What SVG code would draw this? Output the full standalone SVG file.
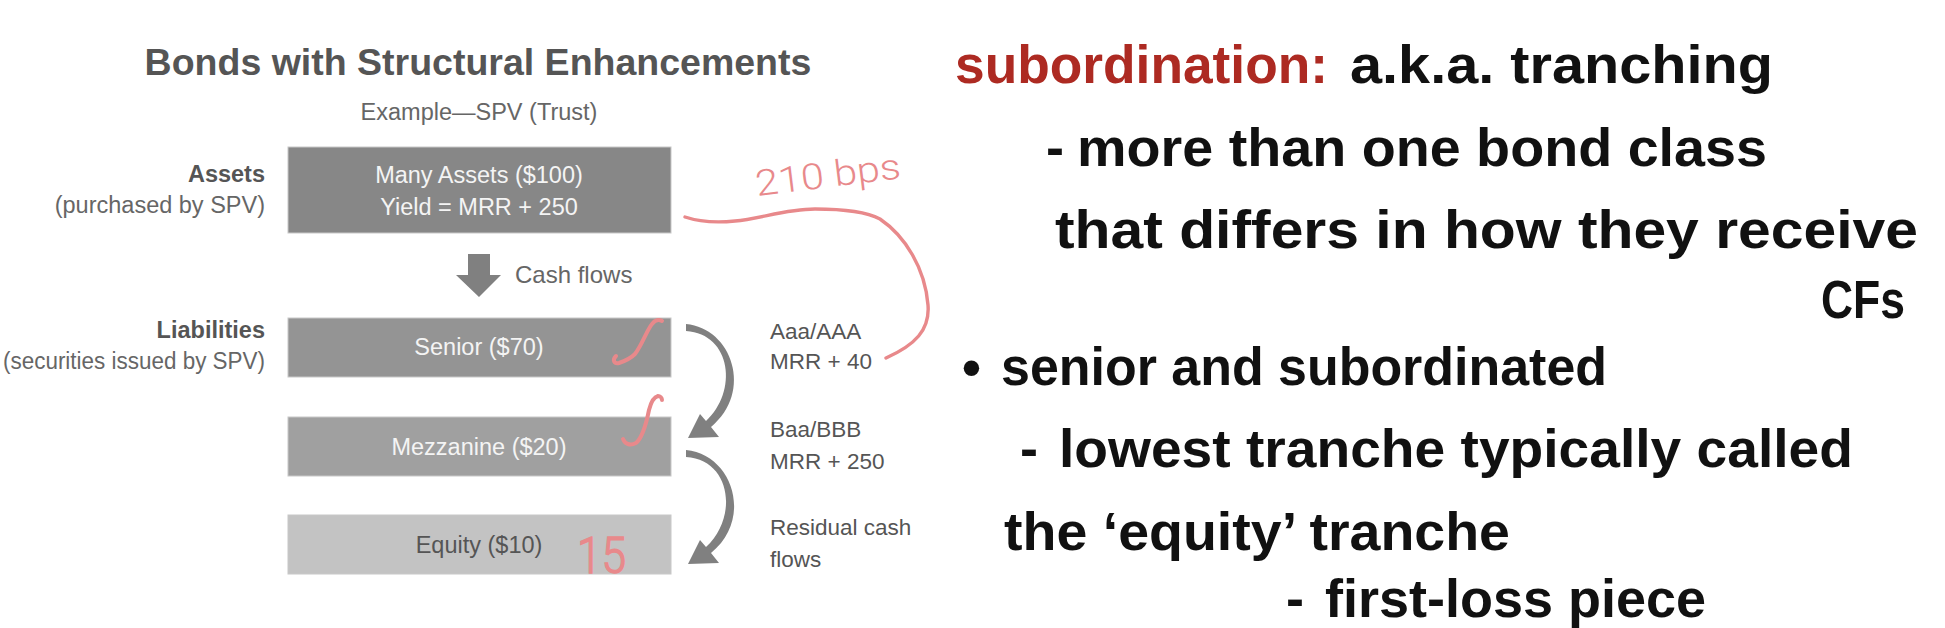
<svg xmlns="http://www.w3.org/2000/svg" xmlns:xlink="http://www.w3.org/1999/xlink" width="1945" height="628" viewBox="0 0 1945 628">
<style>
.sans{font-family:"Liberation Sans",Arial,sans-serif}
.title{font-size:37.5px;font-weight:bold;fill:#555}
.sub{font-size:23.5px;fill:#666}
.lbl{font-size:23.5px;font-weight:bold;fill:#555;text-anchor:end}
.lbl2{font-size:23.5px;fill:#666;text-anchor:end}
.box{stroke:#c8c8c8;stroke-width:1}
.btxt{font-size:23.5px;fill:#f4f4f4;text-anchor:middle}
.rate{font-size:22.5px;fill:#555}
.note{font-family:"Liberation Sans",Arial,sans-serif;font-size:54px;font-weight:bold;fill:#111}
.red{fill:#ad2a22}
.ink{fill:none;stroke:#e8898b;stroke-width:4;stroke-linecap:round;stroke-linejoin:round}
.hand{font-family:Roboto,"Liberation Sans",sans-serif;font-weight:300;fill:#e8898b}
.garrow{fill:#808080}
</style>
<defs>
<path id="curl" d="M686,324 C732,328 754,392 711,427 L719,437 L688,438 L700,414 L706,421 C738,392 732,334 686,331 Z"/>
</defs>
<rect width="1945" height="628" fill="#ffffff"/>

<g id="title"><text class="sans title" x="478" y="75" text-anchor="middle">Bonds with Structural Enhancements</text></g>
<g id="subtitle"><text class="sans sub" x="479" y="120" text-anchor="middle">Example—SPV (Trust)</text></g>

<g id="assets-label">
<text class="sans lbl" x="265" y="182">Assets</text>
<text class="sans lbl2" x="265" y="213">(purchased by SPV)</text>
</g>
<g id="assets-box">
<rect class="box" x="288" y="147" width="383" height="86" fill="#878787"/>
<text class="sans btxt" x="479" y="183">Many Assets ($100)</text>
<text class="sans btxt" x="479" y="215">Yield = MRR + 250</text>
</g>

<g id="cashflow-label"><text class="sans sub" x="515" y="283" style="font-size:24px">Cash flows</text></g>

<g id="liabilities-label">
<text class="sans lbl" x="265" y="338">Liabilities</text>
<text class="sans lbl2" x="265" y="369" textLength="262" lengthAdjust="spacingAndGlyphs">(securities issued by SPV)</text>
</g>
<g id="senior">
<rect class="box" x="288" y="318" width="383" height="59" fill="#949494"/>
<text class="sans btxt" x="479" y="355">Senior ($70)</text>
</g>
<g id="mezzanine">
<rect class="box" x="288" y="417" width="383" height="59" fill="#a0a0a0"/>
<text class="sans btxt" x="479" y="455">Mezzanine ($20)</text>
</g>
<g id="equity">
<rect class="box" x="288" y="515" width="383" height="59" fill="#c3c3c3"/>
<text class="sans btxt" x="479" y="553" style="fill:#555">Equity ($10)</text>
</g>

<g id="senior-rating">
<text class="sans rate" x="770" y="339">Aaa/AAA</text>
<text class="sans rate" x="770" y="369">MRR + 40</text>
</g>
<g id="mezzanine-rating">
<text class="sans rate" x="770" y="437">Baa/BBB</text>
<text class="sans rate" x="770" y="469">MRR + 250</text>
</g>
<g id="equity-rating">
<text class="sans rate" x="770" y="535">Residual cash</text>
<text class="sans rate" x="770" y="567">flows</text>
</g>

<g id="connectors">
<path class="garrow" d="M468,254 H490 V275 H501 L479,297 L456,275 H468 Z"/>
<use xlink:href="#curl" class="garrow"/>
<use xlink:href="#curl" class="garrow" transform="translate(0,126)"/>
<path class="ink" style="stroke-width:3.4" d="M685,217 C700,222 715,223 735,221 C760,219 785,209 815,209 C840,209 865,211 880,219 C905,236 925,268 928,305 C930,330 915,345 886,358"/>
</g>

<g id="annotations">
<text class="hand" x="757" y="196" font-size="36" textLength="146" lengthAdjust="spacingAndGlyphs" transform="rotate(-7 757 196)">210 bps</text>
<path class="ink" d="M616,356 C612,360 614,364 619,363 C625,361 630,359 635,354 C642,345 647,330 652,324 C655,320 659,319 662,321"/>
<path class="ink" d="M623,439 C625,444 630,446 636,443 C642,438 646,425 649,410 C651,402 654,397 658,396 C660,396 662,398 662,400"/>
<text class="hand" x="577" y="573" font-size="50" textLength="49" lengthAdjust="spacingAndGlyphs" stroke="#e8898b" stroke-width="1.5">15</text>
</g>

<g id="notes">
<text class="note red" x="955" y="83" textLength="373" lengthAdjust="spacingAndGlyphs">subordination:</text>
<text class="note" x="1350" y="83" textLength="423" lengthAdjust="spacingAndGlyphs">a.k.a. tranching</text>
<text class="note" x="1046" y="166">-</text>
<text class="note" x="1077" y="166" textLength="690" lengthAdjust="spacingAndGlyphs">more than one bond class</text>
<text class="note" x="1055" y="248" textLength="863" lengthAdjust="spacingAndGlyphs">that differs in how they receive</text>
<text class="note" x="1821" y="318" textLength="84" lengthAdjust="spacingAndGlyphs">CFs</text>
<text class="note" x="962" y="386">•</text>
<text class="note" x="1001" y="385" textLength="606" lengthAdjust="spacingAndGlyphs">senior and subordinated</text>
<text class="note" x="1020" y="467">-</text>
<text class="note" x="1059" y="467" textLength="794" lengthAdjust="spacingAndGlyphs">lowest tranche typically called</text>
<text class="note" x="1004" y="550" textLength="506" lengthAdjust="spacingAndGlyphs">the ‘equity’ tranche</text>
<text class="note" x="1286" y="617">-</text>
<text class="note" x="1325" y="617" textLength="381" lengthAdjust="spacingAndGlyphs">first-loss piece</text>
</g>
</svg>
